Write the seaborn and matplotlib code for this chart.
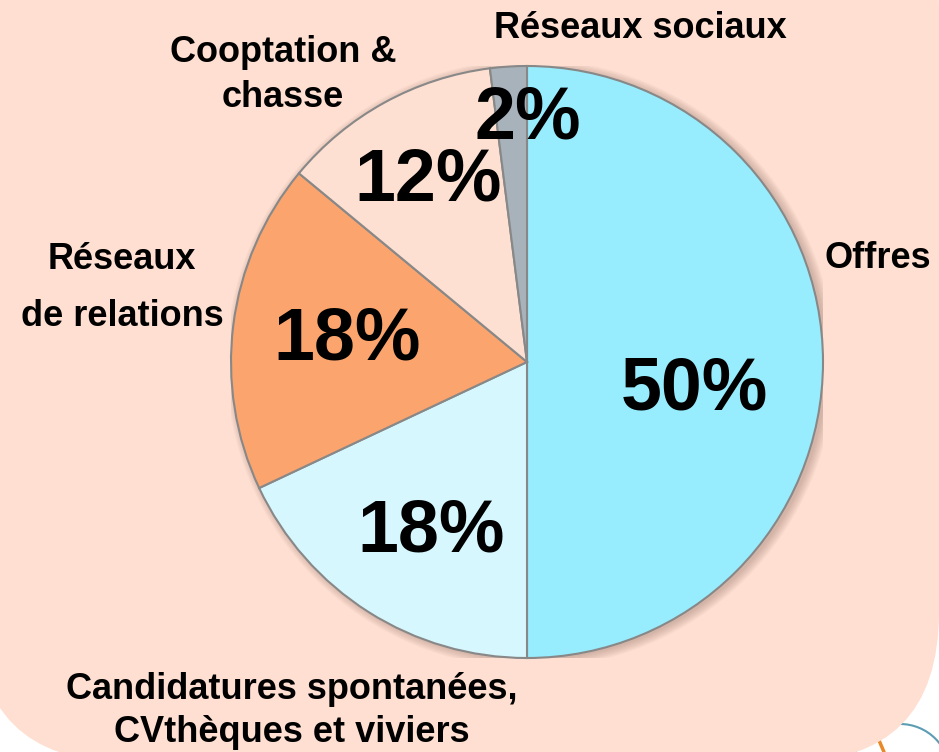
import matplotlib.pyplot as plt
import seaborn as sns
from matplotlib.patches import FancyBboxPatch, Circle
from matplotlib.transforms import IdentityTransform

sns.set_theme(style='white')
plt.rcParams['font.family'] = ['Liberation Sans', 'DejaVu Sans']

# données
categories = ['Offres', 'Candidatures spontanées,\nCVthèques et viviers', 'Réseaux\nde relations',
              'Cooptation &\nchasse', 'Réseaux sociaux']
values = [50, 18, 18, 12, 2]
pct_labels = ['50%', '18%', '18%', '12%', '2%']
colors = ['#97ECFD', '#D5F7FD', '#FBA46D', '#FEE0D2', '#A8B2BA']

# positions (pixels de l'image, origine en haut à gauche)
pct_pos = [(694, 390), (431, 532), (347, 340), (428, 181), (528, 119)]
cat_pos = [(878, 258), (292, 711), (122, 288), (283, 75), (640, 29)]
cat_spacing = [1.2, 1.3, 1.8, 1.35, 1.2]

W, H = 939, 752
fig = plt.figure(figsize=(W / 100, H / 100), dpi=100)
fig.patch.set_facecolor('white')

# petit logo en bas à droite (sous le cadre)
fig.patches.append(Circle((900, H - 774), 50, transform=IdentityTransform(), fill=False,
                          edgecolor='#5B9DB2', lw=1.5, zorder=0))
fig.lines.append(plt.Line2D([878, 884], [H - 738, H - 752], transform=IdentityTransform(),
                            color='#E8892A', lw=2.5, zorder=0))

# cadre arrondi saumon
bg = FancyBboxPatch((-24, -10), 963, 900, boxstyle='round,pad=0,rounding_size=150',
                    transform=IdentityTransform(), facecolor='#FEDFD1', edgecolor='none', zorder=1)
fig.patches.append(bg)

cx, cy, r = 527, 362, 296
ax = fig.add_axes([(cx - r) / W, (H - cy - r) / H, 2 * r / W, 2 * r / H])
ax.set_facecolor('none')
ax.set_zorder(2)

# ombre douce
for k in range(8):
    ax.add_patch(Circle((0.012, -0.006), 1.0 + 0.004 * k, color='#8a6a60', alpha=0.05, zorder=0, lw=0))

wedges, _ = ax.pie(values, colors=colors, startangle=90, counterclock=False, radius=1,
                   wedgeprops=dict(edgecolor='#888888', linewidth=1.5))
ax.set_xlim(-1, 1)
ax.set_ylim(-1, 1)
ax.set_aspect('equal')
ax.axis('off')

for lab, (x, y) in zip(pct_labels, pct_pos):
    fig.text(x / W, 1 - y / H, lab, ha='center', va='center', fontsize=53,
             fontweight='bold', color='black', zorder=5)

for lab, (x, y), ls in zip(categories, cat_pos, cat_spacing):
    fig.text(x / W, 1 - y / H, lab, ha='center', va='center', multialignment='center',
             fontsize=26, fontweight='bold', color='black', linespacing=ls, zorder=5)

fig.savefig('out.png', dpi=100)
